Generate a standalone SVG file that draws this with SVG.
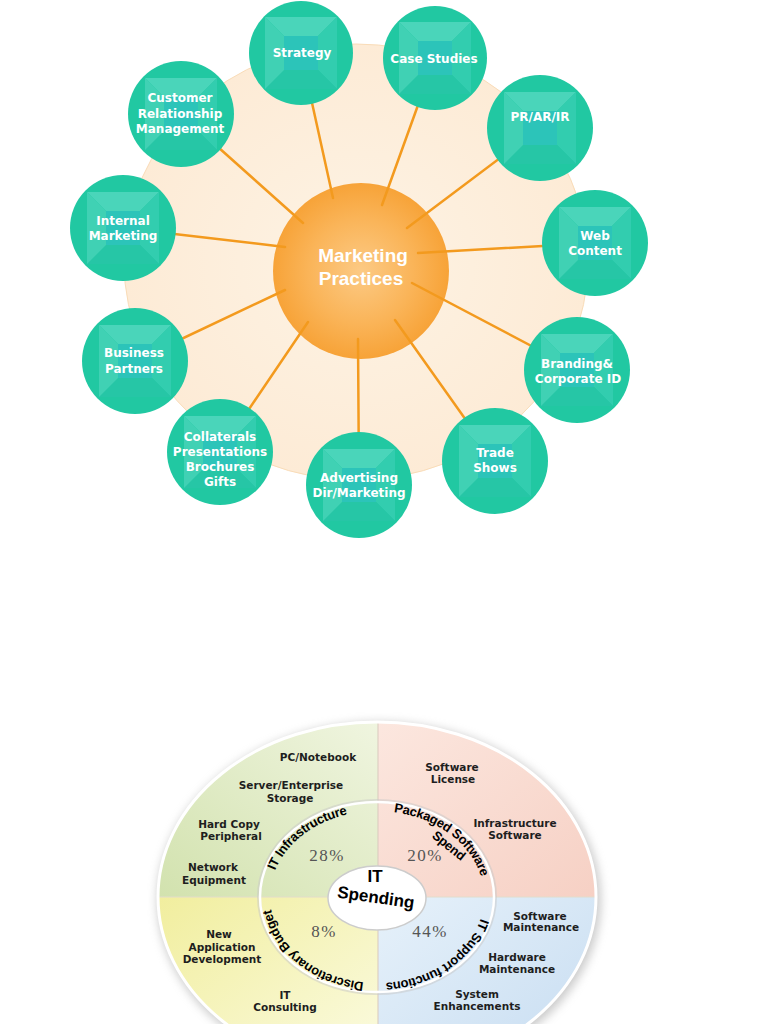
<svg xmlns="http://www.w3.org/2000/svg" xmlns:xlink="http://www.w3.org/1999/xlink" width="768" height="1024" viewBox="0 0 768 1024">
<style>
.nt{font-family:"DejaVu Sans",Verdana,sans-serif;font-weight:bold;font-size:12px;fill:#ffffff;text-anchor:middle}
.node{fill:#21c8a2}
.conn{stroke:#f39a1e;stroke-width:2.5;fill:none;stroke-linecap:round}
.pl{font-family:"DejaVu Sans",Verdana,sans-serif;font-weight:bold;font-size:10.5px;fill:#1e1e1e;text-anchor:middle}
.pct{font-family:"Liberation Serif","Times New Roman",serif;font-size:17px;fill:#555555;text-anchor:middle;letter-spacing:1.5px}
.arc{font-family:"Liberation Sans",Arial,sans-serif;font-weight:900;font-size:13px;fill:#000000;letter-spacing:-0.3px}
.ctr{font-family:"Liberation Sans",Arial,sans-serif;font-weight:900;font-size:17px;fill:#000000;text-anchor:middle}
</style>
<defs>
<radialGradient id="gOrange" cx="50%" cy="50%" r="50%">
<stop offset="0" stop-color="#fcca85"/>
<stop offset="0.6" stop-color="#fab458"/>
<stop offset="1" stop-color="#f7a338"/>
</radialGradient>
<radialGradient id="gBg" cx="50%" cy="50%" r="50%">
<stop offset="0" stop-color="#fdf3e4"/>
<stop offset="1" stop-color="#fdebd6"/>
</radialGradient>
<g id="pyr" opacity="0.85">
<polygon points="-36,-36 36,-36 17,-17 -17,-17" fill="#52d8bf"/>
<polygon points="36,-36 36,36 17,17 17,-17" fill="#36ceb2"/>
<polygon points="36,36 -36,36 -17,17 17,17" fill="#28c6a7"/>
<polygon points="-36,36 -36,-36 -17,-17 -17,17" fill="#46d3b8"/>
<rect x="-17" y="-17" width="34" height="34" fill="#2ec4be"/>
</g>
<linearGradient id="qTL" x1="0" y1="1" x2="1" y2="0">
<stop offset="0" stop-color="#d2e2ae"/>
<stop offset="1" stop-color="#f0f5e0"/>
</linearGradient>
<linearGradient id="qTR" x1="0" y1="0" x2="1" y2="1">
<stop offset="0" stop-color="#fce7df"/>
<stop offset="1" stop-color="#f6d0c4"/>
</linearGradient>
<linearGradient id="qBL" x1="0" y1="0" x2="1" y2="1">
<stop offset="0" stop-color="#f1ee9e"/>
<stop offset="1" stop-color="#fbfbe2"/>
</linearGradient>
<linearGradient id="qBR" x1="0" y1="0" x2="1" y2="1">
<stop offset="0" stop-color="#e6f1fa"/>
<stop offset="1" stop-color="#c6dcf1"/>
</linearGradient>
<clipPath id="outerClip"><ellipse cx="377" cy="897" rx="219" ry="175"/></clipPath>
<filter id="shadow" x="-20%" y="-20%" width="140%" height="140%"><feGaussianBlur stdDeviation="5"/></filter>
<path id="pInfra" d="M271,885 A107,86 0 0 1 362.1,811.8"/>
<path id="pPack" d="M380.7,811.1 A107,86 0 0 1 483.6,889.5"/>
<path id="pDisc" d="M373.3,982.9 A107,86 0 0 1 270.1,900"/>
<path id="pSupp" d="M483.6,904.5 A107,86 0 0 1 371.4,982.9"/>
</defs>

<!-- Top diagram background -->
<ellipse cx="356" cy="262" rx="232" ry="218" fill="url(#gBg)" stroke="#f9dcb8" stroke-width="1"/>

<g id="center-marketing">
<circle cx="361" cy="271" r="88" fill="url(#gOrange)"/>
<text x="363" y="262" font-family="Liberation Sans, Arial, sans-serif" font-weight="bold" font-size="19" fill="#ffffff" text-anchor="middle">Marketing</text>
<text x="361" y="285" font-family="Liberation Sans, Arial, sans-serif" font-weight="bold" font-size="19" fill="#ffffff" text-anchor="middle">Practices</text>
</g>

<g id="connectors">
<line class="conn" x1="301" y1="53" x2="333" y2="198"/>
<line class="conn" x1="435" y1="58" x2="382" y2="205"/>
<line class="conn" x1="540" y1="128" x2="407" y2="228"/>
<line class="conn" x1="595" y1="243" x2="418" y2="253"/>
<line class="conn" x1="577" y1="370" x2="412" y2="283"/>
<line class="conn" x1="495" y1="461" x2="395" y2="320"/>
<line class="conn" x1="359" y1="485" x2="358" y2="339"/>
<line class="conn" x1="220" y1="452" x2="308" y2="322"/>
<line class="conn" x1="135" y1="361" x2="285" y2="290"/>
<line class="conn" x1="123" y1="228" x2="285" y2="247"/>
<line class="conn" x1="181" y1="114" x2="303" y2="223"/>
</g>

<g id="node-strategy"><circle class="node" cx="301" cy="53" r="52"/><use xlink:href="#pyr" href="#pyr" transform="translate(301,53)"/><text class="nt" x="302" y="57">Strategy</text></g>
<g id="node-case-studies"><circle class="node" cx="435" cy="58" r="52"/><use xlink:href="#pyr" href="#pyr" transform="translate(435,58)"/><text class="nt" x="434" y="63">Case Studies</text></g>
<g id="node-pr"><circle class="node" cx="540" cy="128" r="53"/><use xlink:href="#pyr" href="#pyr" transform="translate(540,128)"/><text class="nt" x="540" y="121">PR/AR/IR</text></g>
<g id="node-web"><circle class="node" cx="595" cy="243" r="53"/><use xlink:href="#pyr" href="#pyr" transform="translate(595,243)"/><text class="nt" x="595" y="240">Web</text><text class="nt" x="595" y="255">Content</text></g>
<g id="node-branding"><circle class="node" cx="577" cy="370" r="53"/><use xlink:href="#pyr" href="#pyr" transform="translate(577,370)"/><text class="nt" x="577" y="368">Branding&amp;</text><text class="nt" x="578" y="383">Corporate ID</text></g>
<g id="node-trade"><circle class="node" cx="495" cy="461" r="53"/><use xlink:href="#pyr" href="#pyr" transform="translate(495,461)"/><text class="nt" x="495" y="457">Trade</text><text class="nt" x="495" y="472">Shows</text></g>
<g id="node-advertising"><circle class="node" cx="359" cy="485" r="53"/><use xlink:href="#pyr" href="#pyr" transform="translate(359,485)"/><text class="nt" x="359" y="482">Advertising</text><text class="nt" x="359" y="497">Dir/Marketing</text></g>
<g id="node-collaterals"><circle class="node" cx="220" cy="452" r="53"/><use xlink:href="#pyr" href="#pyr" transform="translate(220,452)"/><text class="nt" x="220" y="441">Collaterals</text><text class="nt" x="220" y="456">Presentations</text><text class="nt" x="220" y="471">Brochures</text><text class="nt" x="220" y="486">Gifts</text></g>
<g id="node-business"><circle class="node" cx="135" cy="361" r="53"/><use xlink:href="#pyr" href="#pyr" transform="translate(135,361)"/><text class="nt" x="134" y="357">Business</text><text class="nt" x="134" y="373">Partners</text></g>
<g id="node-internal"><circle class="node" cx="123" cy="228" r="53"/><use xlink:href="#pyr" href="#pyr" transform="translate(123,228)"/><text class="nt" x="123" y="225">Internal</text><text class="nt" x="123" y="240">Marketing</text></g>
<g id="node-crm"><circle class="node" cx="181" cy="114" r="53"/><use xlink:href="#pyr" href="#pyr" transform="translate(181,114)"/><text class="nt" x="180" y="102">Customer</text><text class="nt" x="180" y="118">Relationship</text><text class="nt" x="180" y="133">Management</text></g>

<!-- Bottom: IT Spending -->
<ellipse cx="379" cy="900" rx="222" ry="178" fill="#9a9a9a" opacity="0.5" filter="url(#shadow)"/>
<g clip-path="url(#outerClip)">
<rect x="158" y="720" width="220" height="177" fill="url(#qTL)"/>
<rect x="378" y="720" width="220" height="177" fill="url(#qTR)"/>
<rect x="158" y="897" width="220" height="177" fill="url(#qBL)"/>
<rect x="378" y="897" width="220" height="177" fill="url(#qBR)"/>
<line x1="378" y1="720" x2="378" y2="1074" stroke="#d9c9bd" stroke-width="1"/>
<line x1="158" y1="897" x2="598" y2="897" stroke="#e2dccb" stroke-width="1"/>
</g>
<ellipse cx="377" cy="897" rx="219" ry="175" fill="none" stroke="#ffffff" stroke-width="3"/>
<ellipse cx="377" cy="897" rx="118" ry="96" fill="none" stroke="#c8c8c8" stroke-width="4" opacity="0.5"/>
<ellipse cx="377" cy="897" rx="117" ry="95" fill="none" stroke="#ffffff" stroke-width="2.5"/>
<ellipse cx="377" cy="898" rx="49" ry="32" fill="#ffffff" stroke="#cccccc" stroke-width="1.5"/>

<text class="pl" x="318" y="761">PC/Notebook</text>
<text class="pl" x="291" y="789">Server/Enterprise</text>
<text class="pl" x="290" y="802">Storage</text>
<text class="pl" x="229" y="828">Hard Copy</text>
<text class="pl" x="231" y="840">Peripheral</text>
<text class="pl" x="213" y="871">Network</text>
<text class="pl" x="214" y="884">Equipment</text>
<text class="pl" x="452" y="771">Software</text>
<text class="pl" x="453" y="783">License</text>
<text class="pl" x="515" y="827">Infrastructure</text>
<text class="pl" x="515" y="839">Software</text>
<text class="pl" x="540" y="920">Software</text>
<text class="pl" x="541" y="931">Maintenance</text>
<text class="pl" x="517" y="961">Hardware</text>
<text class="pl" x="517" y="973">Maintenance</text>
<text class="pl" x="477" y="998">System</text>
<text class="pl" x="477" y="1010">Enhancements</text>
<text class="pl" x="219" y="938">New</text>
<text class="pl" x="222" y="951">Application</text>
<text class="pl" x="222" y="963">Development</text>
<text class="pl" x="285" y="999">IT</text>
<text class="pl" x="285" y="1011">Consulting</text>

<text class="pct" x="327" y="861">28%</text>
<text class="pct" x="425" y="861">20%</text>
<text class="pct" x="324" y="937">8%</text>
<text class="pct" x="430" y="937">44%</text>

<text class="arc"><textPath xlink:href="#pInfra" href="#pInfra" startOffset="50%" text-anchor="middle">IT Infrastructure</textPath></text>
<text class="arc"><textPath xlink:href="#pPack" href="#pPack" startOffset="50%" text-anchor="middle">Packaged Software</textPath></text>
<text class="arc" text-anchor="middle" transform="translate(446,849) rotate(39)">Spend</text>
<text class="arc"><textPath xlink:href="#pDisc" href="#pDisc" startOffset="50%" text-anchor="middle">Discretionary Budget</textPath></text>
<text class="arc"><textPath xlink:href="#pSupp" href="#pSupp" startOffset="50%" text-anchor="middle">IT Support functions</textPath></text>

<text class="ctr" x="375" y="882">IT</text>
<text class="ctr" x="376" y="903" transform="rotate(8,376,897)">Spending</text>
</svg>
